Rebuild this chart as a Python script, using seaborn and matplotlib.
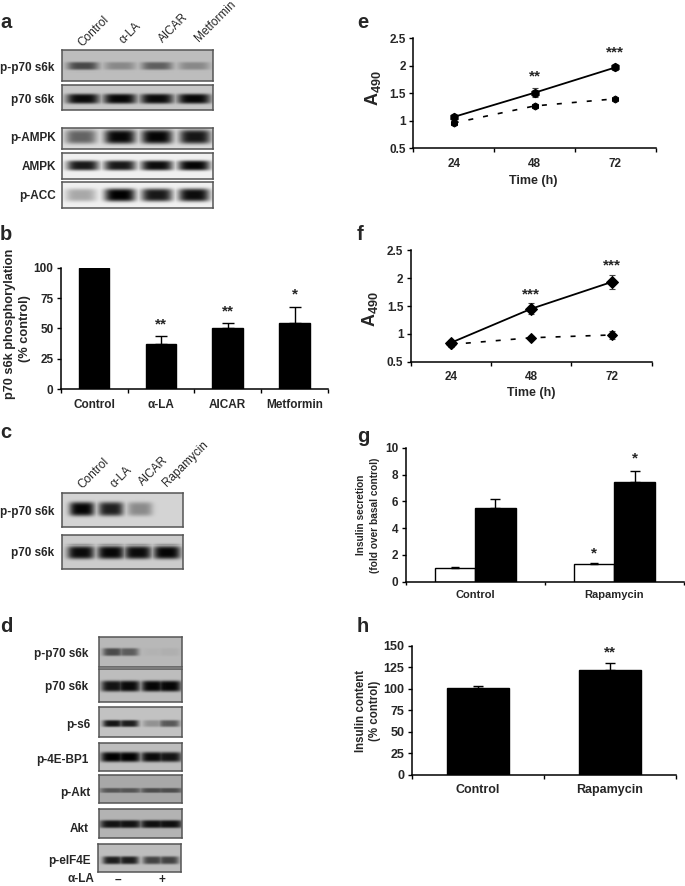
import numpy as np
import pandas as pd
import matplotlib
matplotlib.use('Agg')
import matplotlib.pyplot as plt
import seaborn as sns

sns.set_style('white')
plt.rcParams['font.family'] = ['Liberation Sans', 'DejaVu Sans']
plt.rcParams['font.weight'] = 'bold'
plt.rcParams['mathtext.fontset'] = 'custom'
plt.rcParams['mathtext.bf'] = 'Liberation Sans:bold'
plt.rcParams['mathtext.rm'] = 'Liberation Sans:bold'

W, H = 685, 886

# bar data
b_labels = ['Control', 'α-LA', 'AICAR', 'Metformin']
b_values = [100, 37, 50.5, 54.5]
b_errors = [0, 6.5, 4, 13]
b_stars = ['', '**', '**', '*']

g_labels = ['Control', 'Rapamycin']
g_basal = [1.0, 1.3]
g_stim = [5.5, 7.45]
g_basal_err = [0.06, 0.13]
g_stim_err = [0.65, 0.8]

h_labels = ['Control', 'Rapamycin']
h_values = [100.5, 121.5]
h_errors = [2.5, 9]

# growth curves
times = ['24', '48', '72']
e_solid = [1.07, 1.51, 1.97]
e_solid_err = [0.04, 0.08, 0.05]
e_dashed = [0.96, 1.27, 1.40]
e_dashed_err = [0.03, 0.03, 0.02]
e_stars = ['', '**', '***']
f_solid = [0.84, 1.45, 1.93]
f_solid_err = [0.05, 0.10, 0.12]
f_dashed = [0.81, 0.93, 0.98]
f_dashed_err = [0.04, 0.03, 0.08]
f_stars = ['', '***', '***']

# blot band strengths, one value per lane
a_p70p = [0.62, 0.28, 0.5, 0.28]
a_p70 = [0.95, 0.97, 0.95, 0.97]
a_ampkp = [0.55, 0.97, 0.98, 0.9]
a_ampk = [0.9, 0.9, 0.95, 0.98]
a_acc = [0.3, 1.0, 0.9, 0.95]
c_p70p = [0.98, 0.85, 0.35, 0.0]
c_p70 = [0.95, 0.97, 0.95, 0.98]
d_p70p = [0.6, 0.5, 0.03, 0.05]
d_p70 = [0.9, 0.95, 0.97, 0.97]
d_s6 = [0.9, 0.85, 0.25, 0.55]
d_bp1 = [1.0, 1.0, 0.95, 0.9]
d_akt_p = [0.5, 0.5, 0.55, 0.55]
d_akt = [0.9, 0.9, 0.92, 0.92]
d_eif = [0.85, 0.85, 0.65, 0.65]

a_rows = ['p-p70 s6k', 'p70 s6k', 'p-AMPK', 'AMPK', 'p-ACC']
a_lanes = ['Control', 'α-LA', 'AICAR', 'Metformin']
c_rows = ['p-p70 s6k', 'p70 s6k']
c_lanes = ['Control', 'α-LA', 'AICAR', 'Rapamycin']
d_rows = ['p-p70 s6k', 'p70 s6k', 'p-s6', 'p-4E-BP1', 'p-Akt', 'Akt', 'p-eIF4E']

fig = plt.figure(figsize=(W / 100, H / 100), dpi=100)


def px_axes(x0, y0, x1, y1):
    return fig.add_axes([x0 / W, 1 - y1 / H, (x1 - x0) / W, (y1 - y0) / H])


def px_text(x, y, s, **kw):
    kw.setdefault('ha', 'right')
    kw.setdefault('va', 'center')
    kw.setdefault('fontsize', 8.5)
    fig.text(x / W, 1 - y / H, s, **kw)


def blot(box, strength, centers, band_w, band_y, band_h, bg):
    x0, y0, x1, y1 = box
    nx, ny = int(x1 - x0), int(y1 - y0)
    xx, yy = np.meshgrid(np.arange(nx) + x0, (np.arange(ny) + 0.5) / ny)
    dark = np.zeros((ny, nx))
    for s, c in zip(strength, centers):
        prof = np.exp(-((xx - c) / (band_w / 2)) ** 4) * np.exp(-((yy - band_y) * ny / band_h) ** 4)
        dark = np.maximum(dark, s * prof)
    ax = px_axes(*box)
    sns.heatmap(bg * (1 - dark), ax=ax, cmap='gray', vmin=0, vmax=1, cbar=False,
                xticklabels=False, yticklabels=False)
    for sp in ax.spines.values():
        sp.set_visible(True)
        sp.set_color('#555555')
        sp.set_linewidth(1.1)


def style_axis(ax, n, ymax, yticks, ylabels, fs=8.5):
    sns.despine(ax=ax)
    ax.set_xlim(-0.5, n - 0.5)
    ax.set_ylim(yticks[0], ymax)
    ax.set_yticks(yticks, ylabels)
    ax.set_xticks(np.arange(n + 1) - 0.5, [''] * (n + 1))
    ax.tick_params(axis='both', which='major', length=3.2, width=1, left=True, bottom=True,
                   color='black', labelsize=fs, pad=2)
    for sp in ['left', 'bottom']:
        ax.spines[sp].set_linewidth(1.1)
        ax.spines[sp].set_color('black')
    ax.set_xlabel('')
    ax.set_ylabel('')
    ax.patch.set_alpha(0)


def cat_labels(ax, labels, fs=8.5, pad=6):
    ax.set_xticks(np.arange(len(labels)), labels, minor=True)
    ax.tick_params(axis='x', which='minor', length=0, labelsize=fs, pad=pad)


def up_err(ax, x, y, err, cap=3.5):
    ax.errorbar(x, y, yerr=[np.zeros(len(err)), err], fmt='none', ecolor='black',
                elinewidth=1, capsize=cap, capthick=1, clip_on=False)


def bars(ax, labels, values, width):
    sns.barplot(x=labels, y=values, color='black', width=width, saturation=1, ax=ax,
                errorbar=None, edgecolor='black')


def curves(box, solid, solid_err, dashed, dashed_err, stars, star_y, mark):
    ax = px_axes(*box)
    sns.lineplot(x=times, y=solid, color='black', linewidth=1.3, marker=mark, markersize=6,
                 markeredgecolor='black', ax=ax, errorbar=None, zorder=3)
    sns.lineplot(x=times, y=dashed, color='black', linewidth=1.2, marker=mark, markersize=5,
                 markeredgecolor='black', ax=ax, errorbar=None, zorder=3)
    ax.lines[1].set_linestyle((0, (3, 6)))
    for y, err in [(solid, solid_err), (dashed, dashed_err)]:
        ax.errorbar(times, y, yerr=err, fmt='none', ecolor='#444444', elinewidth=0.8,
                    capsize=2.5, capthick=0.8, zorder=2)
    style_axis(ax, 3, 2.5, [0.5, 1, 1.5, 2, 2.5], ['0.5', '1', '1.5', '2', '2.5'])
    cat_labels(ax, times, pad=7)
    for t, s, yy in zip(times, stars, star_y):
        ax.text(t, yy, s, ha='center', va='center', fontsize=11)
    return ax


# panel a
a_x = [82, 119, 156, 193]
a_boxes = [(61.5, 50, 212.5, 80.7), (61.5, 85, 212.5, 110), (61.5, 128, 212.5, 149),
           (61.5, 153, 212.5, 179), (61.5, 182, 212.5, 208)]
blot(a_boxes[0], a_p70p, a_x, 31, 0.53, 4, 0.74)
blot(a_boxes[1], a_p70, a_x, 33, 0.55, 5, 0.78)
blot(a_boxes[2], a_ampkp, [80, 119, 156, 194], 31, 0.42, 7, 0.86)
blot(a_boxes[3], a_ampk, a_x, 32, 0.48, 5, 0.94)
blot(a_boxes[4], a_acc, [80, 119, 156, 193], 31, 0.5, 6.5, 0.94)
for lab, yy, xr in zip(a_rows, [68, 100, 138, 167, 196], [54, 54, 56, 56, 56]):
    px_text(xr, yy, lab)
for lab, xs, ys in zip(a_lanes, [84, 126, 165, 201], [49, 46, 45, 44]):
    px_text(xs, ys, lab, rotation=45, rotation_mode='anchor', ha='left', va='bottom',
            fontsize=8.5, fontweight='normal')

# panel b
ax_b = px_axes(60.7, 267.7, 328, 389)
bars(ax_b, b_labels, b_values, 0.46)
up_err(ax_b, np.arange(4)[1:], b_values[1:], b_errors[1:], cap=4)
style_axis(ax_b, 4, 100, [0, 25, 50, 75, 100], ['0', '25', '50', '75', '100'])
cat_labels(ax_b, b_labels, pad=7)
for i, s, yy in zip(range(4), b_stars, [0, 53, 64, 78]):
    ax_b.text(i, yy, s, ha='center', va='center', fontsize=11)
px_text(10, 324, 'p70 s6k phosphorylation', rotation=90, ha='center', fontsize=9.2)
px_text(25, 329, '(% control)', rotation=90, ha='center', fontsize=9.2)

# panel c
blot((61.5, 493, 182.7, 527.3), c_p70p, [81, 110, 139, 166], 25, 0.47, 7, 0.83)
blot((61.5, 535.3, 182.7, 569), c_p70, [80, 110, 137, 166], 27, 0.5, 6.5, 0.8)
for lab, yy in zip(c_rows, [512, 553]):
    px_text(54, yy, lab)
for lab, xs, ys in zip(c_lanes, [84, 117, 145, 169], [491, 490, 488, 489]):
    px_text(xs, ys, lab, rotation=45, rotation_mode='anchor', ha='left', va='bottom',
            fontsize=8.5, fontweight='normal')

# panel d
d_x = [112, 128, 152, 168]
blot((98.7, 637.3, 181.7, 666.7), d_p70p, d_x, 20, 0.5, 3.5, 0.72)
blot((98.7, 669.3, 181.7, 701.7), d_p70, d_x, 23, 0.52, 5, 0.74)
blot((98.7, 707, 181.7, 737), d_s6, d_x, 20, 0.55, 3.5, 0.76)
blot((98.7, 742.7, 181.7, 770.7), d_bp1, d_x, 24, 0.5, 5, 0.74)
blot((98.7, 775, 181.7, 802.7), d_akt_p, d_x, 26, 0.57, 2.5, 0.66)
blot((98.7, 809.3, 181.7, 838.3), d_akt, d_x, 26, 0.52, 4, 0.7)
blot((97.7, 844, 181, 872.3), d_eif, d_x, 20, 0.58, 4, 0.74)
for lab, xr, yy in zip(d_rows, [88, 88, 90, 89, 90, 89, 91], [654, 687, 725, 760, 793, 829, 861]):
    px_text(xr, yy, lab)
px_text(94, 879.5, 'α-LA')
px_text(118, 879.5, '–', ha='center')
px_text(162, 879.5, '+', ha='center')

# panels e, f
ax_e = curves((413.3, 38.3, 655.7, 148.3), e_solid, e_solid_err, e_dashed, e_dashed_err, e_stars,
              [0, 1.81, 2.24], 'h')
px_text(533, 181, 'Time (h)', ha='center', fontsize=9)
px_text(373, 88, r'$\mathbf{A_{490}}$', rotation=90, ha='center', fontsize=13)
ax_f = curves((410.7, 250.3, 651.7, 361.7), f_solid, f_solid_err, f_dashed, f_dashed_err, f_stars,
              [0, 1.71, 2.22], 'D')
px_text(531, 393, 'Time (h)', ha='center', fontsize=9)
px_text(370, 309, r'$\mathbf{A_{490}}$', rotation=90, ha='center', fontsize=13)

# panel g
ax_g = px_axes(405.7, 447.7, 684, 581.7)
g_df = pd.DataFrame({'group': g_labels * 2, 'kind': ['basal'] * 2 + ['stim'] * 2,
                     'value': g_basal + g_stim})
sns.barplot(data=g_df, x='group', y='value', hue='kind', palette=['white', 'black'], width=0.58,
            saturation=1, gap=0, edgecolor='black', linewidth=1, errorbar=None, legend=False, ax=ax_g)
up_err(ax_g, np.arange(2) - 0.145, g_basal, g_basal_err, cap=3)
up_err(ax_g, np.arange(2) + 0.145, g_stim, g_stim_err, cap=3.5)
style_axis(ax_g, 2, 10, [0, 2, 4, 6, 8, 10], ['0', '2', '4', '6', '8', '10'])
ax_g.tick_params(axis='x', which='major', length=2)
cat_labels(ax_g, g_labels, fs=8, pad=6)
ax_g.text(0.855, 2.1, '*', ha='center', va='center', fontsize=11)
ax_g.text(1.145, 9.2, '*', ha='center', va='center', fontsize=11)
px_text(361, 515, 'Insulin secretion', rotation=90, ha='center', fontsize=7.3)
px_text(375, 515, '(fold over basal control)', rotation=90, ha='center', fontsize=7.3)

# panel h
ax_h = px_axes(411.7, 646, 676, 774.7)
bars(ax_h, h_labels, h_values, 0.466)
up_err(ax_h, np.arange(2), h_values, h_errors, cap=3.5)
style_axis(ax_h, 2, 150, [0, 25, 50, 75, 100, 125, 150], ['0', '25', '50', '75', '100', '125', '150'], fs=9)
cat_labels(ax_h, h_labels, fs=9, pad=6.5)
ax_h.text(1, 142, '**', ha='center', va='center', fontsize=11)
px_text(361, 711, 'Insulin content', rotation=90, ha='center', fontsize=8.3)
px_text(375, 711, '(% control)', rotation=90, ha='center', fontsize=8.3)

# panel letters
for s, xl, yl in [('a', 0, 23), ('b', 0, 235), ('c', 0, 433), ('d', 0, 626),
                  ('e', 357, 23), ('f', 357, 235), ('g', 357, 437), ('h', 357, 627)]:
    px_text(xl, yl, s, ha='left', fontsize=14.5)

fig.savefig('out.png', dpi=100, facecolor='white')
